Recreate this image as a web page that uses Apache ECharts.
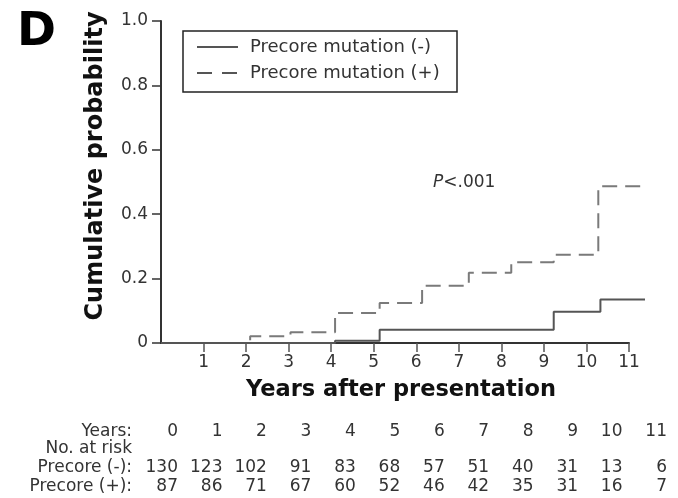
<!DOCTYPE html>
<html>
<head>
<meta charset="utf-8">
<title>Cumulative probability by precore mutation</title>
<script src="https://cdn.jsdelivr.net/npm/echarts@6/dist/echarts.min.js"></script>
<style>
    html, body { margin: 0; padding: 0; background: #fff; }
    #chart { width: 678px; height: 498px; }
</style>
</head>
<body>
<div id="chart"></div>
<script>
    // step points (years, cumulative probability)
    var minusTimes = [0, 4.1, 5.15, 9.25, 10.35, 11.4];
    var minusProb = [0, 0.007, 0.041, 0.097, 0.135, 0.135];
    var plusTimes = [0, 2.1, 3.05, 4.1, 5.15, 6.15, 7.25, 8.25, 9.25, 10.3, 11.4];
    var plusProb = [0, 0.021, 0.033, 0.093, 0.124, 0.178, 0.218, 0.251, 0.274, 0.487, 0.487];

    var seriesNames = ['Precore mutation (-)', 'Precore mutation (+)'];

    // number at risk table
    var tableYears = ['0', '1', '2', '3', '4', '5', '6', '7', '8', '9', '10', '11'];
    var atRiskMinus = [130, 123, 102, 91, 83, 68, 57, 51, 40, 31, 13, 6];
    var atRiskPlus = [87, 86, 71, 67, 60, 52, 46, 42, 35, 31, 16, 7];
    var rowLabels = ['Years:', 'No. at risk', 'Precore (-):', 'Precore (+):'];

    var FONT = 'DejaVu Sans';
    var INK = '#333';

    function pairs(xs, ys) {
        return xs.map(function (x, i) { return [x, ys[i]]; });
    }

    // table built as graphic texts, columns evenly spread
    var table = [];
    var rowY = [432, 449, 468, 487];
    var rows = [tableYears, null, atRiskMinus, atRiskPlus];
    rowLabels.forEach(function (label, r) {
        table.push({
            type: 'text', x: 132, y: rowY[r],
            style: { text: label, font: '17px "' + FONT + '"', fill: INK, align: 'right', verticalAlign: 'middle' }
        });
        if (!rows[r]) return;
        rows[r].forEach(function (v, i) {
            table.push({
                type: 'text', x: 178 + i * 44.45, y: rowY[r],
                style: { text: String(v), font: '17px "' + FONT + '"', fill: INK, align: 'right', verticalAlign: 'middle' }
            });
        });
    });

    var legend = [
        { type: 'rect', shape: { x: 183, y: 31, width: 274, height: 61 },
          style: { fill: '#fff', stroke: '#222', lineWidth: 1.5 }, z: 10 },
        { type: 'line', shape: { x1: 197, y1: 47, x2: 238, y2: 47 },
          style: { stroke: '#555', lineWidth: 2 }, z: 11 },
        { type: 'line', shape: { x1: 197, y1: 73, x2: 238, y2: 73 },
          style: { stroke: '#555', lineWidth: 2, lineDash: [15, 10] }, z: 11 },
        { type: 'text', x: 250, y: 47, z: 11,
          style: { text: seriesNames[0], font: '18px "' + FONT + '"', fill: INK, verticalAlign: 'middle' } },
        { type: 'text', x: 250, y: 73, z: 11,
          style: { text: seriesNames[1], font: '18px "' + FONT + '"', fill: INK, verticalAlign: 'middle' } }
    ];

    var labels = [
        { type: 'text', x: 17, y: 33,
          style: { text: 'D', font: 'bold 47px "' + FONT + '"', fill: '#000', verticalAlign: 'middle' } },
        { type: 'text', x: 96, y: 166, rotation: Math.PI / 2,
          style: { text: 'Cumulative probability', font: 'bold 24px "' + FONT + '"', fill: '#111',
                   align: 'center', verticalAlign: 'middle' } },
        { type: 'text', x: 401, y: 390,
          style: { text: 'Years after presentation', font: 'bold 22.5px "' + FONT + '"', fill: '#111',
                   align: 'center', verticalAlign: 'middle' } },
        { type: 'text', x: 433, y: 183,
          style: { text: '{i|P}<.001', font: '17px "' + FONT + '"', fill: INK, verticalAlign: 'middle',
                   rich: { i: { fontStyle: 'italic', fontFamily: FONT, fontSize: 17, fill: INK } } } }
    ];

    var chart = echarts.init(document.getElementById('chart'));
    chart.setOption({
        animation: false,
        backgroundColor: '#fff',
        textStyle: { fontFamily: FONT },
        // grid 0 holds the curves (they run past year 11), grid 1 only shows the x axis 0-11
        grid: [
            { left: 161, right: 33, top: 21, bottom: 155 },
            { left: 161, right: 49, top: 21, bottom: 155 }
        ],
        xAxis: [
            { type: 'value', gridIndex: 0, min: 0, max: 11.4, show: false },
            {
                type: 'value', gridIndex: 1, min: 0, max: 11, interval: 1,
                axisLine: { lineStyle: { color: INK, width: 2 } },
                axisTick: { length: 9, lineStyle: { color: '#555', width: 1.5 } },
                axisLabel: { color: INK, fontSize: 17, margin: 11, showMinLabel: false },
                splitLine: { show: false }
            }
        ],
        yAxis: [
            {
                type: 'value', gridIndex: 0, min: 0, max: 1, interval: 0.2,
                axisLine: { show: true, lineStyle: { color: INK, width: 2 } },
                axisTick: { show: true, length: 9, lineStyle: { color: INK, width: 1.5 } },
                axisLabel: {
                    color: INK, fontSize: 17, margin: 13,
                    formatter: function (v) { return v === 0 ? '0' : v.toFixed(1); }
                },
                splitLine: { show: false }
            },
            { type: 'value', gridIndex: 1, min: 0, max: 1, show: false }
        ],
        series: [
            {
                name: seriesNames[0], type: 'line', step: 'end', xAxisIndex: 0, yAxisIndex: 0,
                data: pairs(minusTimes, minusProb), symbol: 'none', clip: false,
                lineStyle: { color: '#555', width: 2 }, z: 5
            },
            {
                name: seriesNames[1], type: 'line', step: 'end', xAxisIndex: 0, yAxisIndex: 0,
                data: pairs(plusTimes, plusProb), symbol: 'none', clip: false,
                lineStyle: { color: '#7a7a7a', width: 2, type: [15, 8] }, z: 4
            }
        ],
        graphic: legend.concat(labels, table)
    });
</script>
</body>
</html>
